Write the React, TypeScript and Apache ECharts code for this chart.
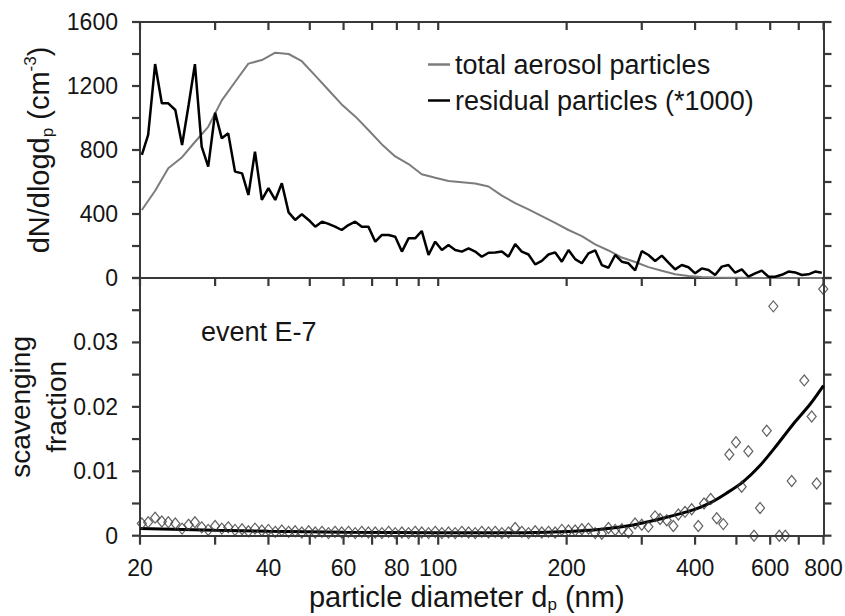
import React, { useEffect, useRef } from "react";
import * as echarts from "echarts";

// particle diameters (nm) of the size channels
const diameters = [
  20.2, 20.9, 21.7, 22.5, 23.3, 24.2, 25.1, 26.0, 26.9, 27.9,
  28.9, 30.0, 31.1, 32.2, 33.4, 34.7, 35.9, 37.2, 38.6, 40.0,
  41.5, 43.0, 44.6, 46.2, 47.9, 49.7, 51.5, 53.4, 55.3, 57.3,
  59.4, 61.6, 63.9, 66.2, 68.6, 71.2, 73.8, 76.5, 79.3, 82.2,
  85.2, 88.3, 91.5, 94.9, 98.4, 102.0, 105.7, 109.6, 113.6, 117.8,
  122.1, 126.5, 131.2, 136.0, 141.0, 146.1, 151.5, 157.0, 162.8, 168.8,
  174.9, 181.3, 188.0, 194.9, 202.0, 209.4, 217.1, 225.0, 233.3, 241.8,
  250.7, 259.9, 269.4, 279.2, 289.5, 300.1, 311.1, 322.5, 334.3, 346.5,
  359.2, 372.4, 386.0, 400.2, 414.8, 430.0, 445.8, 462.1, 479.0, 496.6,
  514.8, 533.6, 553.2, 573.4, 594.4, 616.2, 638.8, 662.2, 686.4, 711.6,
  737.7, 764.7, 792.7,
];

// residual particles (*1000), dN/dlogdp
const residual = [
  769, 894, 1337, 1092, 1092, 1050, 831, 1081, 1337, 821,
  696, 1033, 873, 904, 665, 654, 519, 790, 488, 561,
  488, 592, 410, 363, 398, 363, 321, 352, 338, 321,
  300, 331, 352, 321, 321, 227, 269, 269, 258, 165,
  248, 248, 294, 144, 227, 175, 206, 175, 165, 185,
  165, 133, 158, 160, 165, 133, 212, 165, 147, 85,
  107, 147, 160, 102, 175, 118, 92, 154, 173, 81,
  64, 144, 102, 92, 48, 168, 144, 106, 140, 96,
  54, 81, 67, 29, 60, 50, 19, 71, 81, 33,
  54, 8, 29, 46, 8, 8, 20, 40, 35, 19,
  23, 40, 33,
];

// total aerosol particles, dN/dlogdp
const totalDiameters = [
  20.2, 21.7, 23.3, 25.1, 26.9, 28.9, 31.1, 33.4, 35.9, 38.6,
  41.5, 44.6, 47.9, 51.5, 55.3, 59.4, 63.9, 68.6, 73.8, 79.3,
  85.2, 91.5, 98.4, 105.7, 113.6, 122.1, 131.2, 141.0, 151.5, 162.8,
  174.9, 188.0, 202.0, 217.1, 233.3, 250.7, 269.4, 289.5, 311.1, 334.3,
  359.2, 386.0, 414.8, 445.8, 479.0, 514.8, 553.2, 594.4, 638.8, 686.4,
  737.7, 792.7,
];
const totalAerosol = [
  425, 545, 686, 755, 850, 945, 1110, 1225, 1340, 1362,
  1408, 1400, 1355, 1265, 1175, 1085, 1010, 925, 835, 760,
  712, 648, 626, 606, 598, 590, 572, 515, 468, 429,
  387, 345, 300, 262, 210, 172, 128, 100, 68, 45,
  24, 12, 6, 3, 2, 1, 0, 0, 0, 0,
  0, 0,
];

// scavenging fraction (diamonds): the first 74 channels, then these diameters
const scavTailDiameters = [
  289.4, 300.0, 310.9, 322.3, 331.1, 343.3, 355.7, 365.5, 378.9, 392.8,
  407.0, 419.8, 435.2, 449.6, 465.8, 481.2, 498.8, 514.4, 533.2, 549.8,
  568.0, 588.9, 610.2, 630.2, 650.9, 673.8, 721.2, 750.6, 771.0, 799.0,
];
const scavFraction = [
  0.0019, 0.0021, 0.0028, 0.0022, 0.0021, 0.0019, 0.0011, 0.0017, 0.0021, 0.0013,
  0.0009, 0.0015, 0.0011, 0.0013, 0.0009, 0.0010, 0.0007, 0.0011, 0.0008, 0.0009,
  0.0006, 0.0008, 0.0006, 0.0007, 0.0005, 0.0007, 0.0005, 0.0006, 0.0004, 0.0006,
  0.0005, 0.0006, 0.0004, 0.0006, 0.0005, 0.0005, 0.0004, 0.0006, 0.0004, 0.0005,
  0.0004, 0.0006, 0.0005, 0.0004, 0.0006, 0.0004, 0.0005, 0.0004, 0.0006, 0.0005,
  0.0004, 0.0006, 0.0005, 0.0006, 0.0004, 0.0005, 0.0012, 0.0006, 0.0004, 0.0007,
  0.0005, 0.0006, 0.0005, 0.0009, 0.0008, 0.0008, 0.0010, 0.0011, 0.0004, 0.0003,
  0.0012, 0.0009, 0.0010, 0.0005,
  0.0019, 0.0017, 0.0014, 0.0030, 0.0026, 0.0024, 0.0015, 0.0033, 0.0037, 0.0041,
  0.0015, 0.0050, 0.0057, 0.0027, 0.0018, 0.0126, 0.0145, 0.0076, 0.0131, 0.0000,
  0.0043, 0.0163, 0.0356, 0.0000, 0.0000, 0.0085, 0.0241, 0.0185, 0.0081, 0.0383,
];

// fitted curve
const fitDiameters = [20, 30, 40, 60, 100, 150, 193, 231, 277, 331, 396, 434, 474, 519, 568, 621, 679, 744, 800];
const fitFraction = [
  0.0011, 0.00085, 0.0007, 0.00055, 0.00045, 0.00045, 0.0006, 0.0009, 0.0015, 0.0026,
  0.004, 0.0051, 0.0066, 0.0084, 0.0109, 0.0140, 0.0173, 0.0204, 0.0233,
];

// tick positions and labels
const xTickValues = [20, 30, 40, 50, 60, 70, 80, 90, 100, 200, 300, 400, 500, 600, 700, 800];
const xLabelValues = [20, 40, 60, 80, 100, 200, 400, 600, 800];
const yTopTicks = [0, 200, 400, 600, 800, 1000, 1200, 1400, 1600];
const yBottomTicks = [0, 0.005, 0.01, 0.015, 0.02, 0.025, 0.03, 0.035, 0.04];

const FONT = "Liberation Sans";
const AXIS_COLOR = "#383838";
const TEXT_COLOR = "#151515";

export default function App() {
  const ref = useRef<HTMLDivElement>(null);

  useEffect(() => {
    const chart = echarts.init(ref.current!, null, { renderer: "svg" });
    const scavDiameters = diameters.slice(0, 74).concat(scavTailDiameters);
    const lmin = Math.log10(20);
    const lmax = Math.log10(800);
    const line = () => ({ show: true, onZero: false, lineStyle: { color: AXIS_COLOR, width: 2 } });
    const labelStyle = () => ({ fontFamily: FONT, fontSize: 23, color: TEXT_COLOR });
    const richBase = { fontFamily: FONT, color: TEXT_COLOR };
    const eventLabel = {
      type: "text", left: 201, top: 318,
      style: { text: "event E-7", fontFamily: FONT, fontSize: 27, fill: TEXT_COLOR },
    };

    const option: any = {
      animation: false,
      backgroundColor: "#ffffff",
      grid: [
        { left: 140, right: 21.5, top: 22, height: 256, outerBoundsMode: "none" },
        { left: 140, right: 21.5, top: 278, height: 257.7, outerBoundsMode: "none" },
      ],
      legend: {
        orient: "vertical", left: 428, top: 51, padding: 0, itemGap: 9,
        itemWidth: 22, itemHeight: 2.5, icon: "rect",
        data: ["total aerosol particles", "residual particles (*1000)"],
        textStyle: { fontFamily: FONT, fontSize: 27, lineHeight: 27, color: TEXT_COLOR },
      },
      xAxis: [
        {
          type: "log", logBase: 10, gridIndex: 0, min: 20, max: 800, position: "bottom",
          axisLine: line(), axisTick: { show: false }, axisLabel: { show: false }, splitLine: { show: false },
        },
        {
          type: "log", logBase: 10, gridIndex: 1, min: 20, max: 800, position: "bottom",
          axisLine: line(), axisTick: { show: false }, axisLabel: { show: false }, splitLine: { show: false },
        },
        {
          type: "value", gridIndex: 0, min: lmin, max: lmax, position: "top",
          axisLine: line(), axisTick: { show: false },
          axisLabel: { show: false }, splitLine: { show: false },
        },
        {
          type: "value", gridIndex: 1, min: lmin, max: lmax, position: "bottom",
          axisLine: line(), axisTick: { show: false },
          axisLabel: {
            show: true, margin: 21, ...labelStyle(),
            customValues: xLabelValues.map(Math.log10),
            formatter: (v: number) => String(Math.round(Math.pow(10, v))),
          },
          splitLine: { show: false },
          name: "{a|particle diameter d}{sub|p}{a| (nm)}",
          nameLocation: "middle", nameGap: 45, nameMoveOverlap: false,
          nameTextStyle: {
            ...richBase, fontSize: 29, padding: [0, 30, 0, 0],
            rich: {
              a: { ...richBase, fontSize: 29, lineHeight: 32 },
              sub: { ...richBase, fontSize: 17, lineHeight: 17, verticalAlign: "bottom" },
            },
          },
        },
      ],
      yAxis: [
        {
          type: "value", gridIndex: 0, position: "left", min: 0, max: 1600, interval: 400,
          axisLine: line(), axisTick: { show: false },
          axisLabel: { show: true, margin: 22, ...labelStyle(), formatter: (v: number) => String(v) },
          splitLine: { show: false },
          name: "{a|dN/dlogd}{sub|p}{a| (cm}{sup|-3}{a|)}",
          nameLocation: "middle", nameGap: 84, nameMoveOverlap: false,
          nameTextStyle: {
            ...richBase, fontSize: 29,
            rich: {
              a: { ...richBase, fontSize: 29, lineHeight: 34 },
              sub: { ...richBase, fontSize: 17, lineHeight: 17, verticalAlign: "bottom" },
              sup: { ...richBase, fontSize: 17, lineHeight: 17, verticalAlign: "top" },
            },
          },
        },
        {
          type: "value", gridIndex: 0, position: "right", min: 0, max: 1600, interval: 200,
          axisLine: line(), axisTick: { show: false },
          axisLabel: { show: false }, splitLine: { show: false },
        },
        {
          type: "value", gridIndex: 1, position: "left", min: 0, max: 0.04, interval: 0.01,
          axisLine: line(), axisTick: { show: false },
          axisLabel: {
            show: true, margin: 22, ...labelStyle(),
            formatter: (v: number) => (v > 0.035 ? "" : String(Math.round(v * 100) / 100)),
          },
          splitLine: { show: false },
          name: "scavenging\nfraction",
          nameLocation: "middle", nameGap: 66, nameMoveOverlap: false,
          nameTextStyle: { ...richBase, fontSize: 28, lineHeight: 36 },
        },
        {
          type: "value", gridIndex: 1, position: "right", min: 0, max: 0.04, interval: 0.005,
          axisLine: line(), axisTick: { show: false },
          axisLabel: { show: false }, splitLine: { show: false },
        },
      ],
      graphic: [eventLabel],
      series: [
        {
          name: "total aerosol particles", type: "line", xAxisIndex: 0, yAxisIndex: 0,
          data: totalDiameters.map((d, i) => [d, totalAerosol[i]]),
          symbol: "none", clip: false,
          lineStyle: { color: "#7c7c7c", width: 2 }, itemStyle: { color: "#7c7c7c" }, z: 2,
        },
        {
          name: "residual particles (*1000)", type: "line", xAxisIndex: 0, yAxisIndex: 0,
          data: diameters.map((d, i) => [d, residual[i]]),
          symbol: "none", clip: false,
          lineStyle: { color: "#000000", width: 2.5 }, itemStyle: { color: "#000000" }, z: 3,
        },
        {
          name: "fit", type: "line", xAxisIndex: 1, yAxisIndex: 2,
          data: fitDiameters.map((d, i) => [d, fitFraction[i]]),
          symbol: "none", smooth: 0.3, clip: false,
          lineStyle: { color: "#000000", width: 3 }, z: 3,
        },
        {
          name: "scavenging", type: "scatter", xAxisIndex: 1, yAxisIndex: 2,
          data: scavDiameters.map((d, i) => [d, scavFraction[i]]),
          symbol: "diamond", symbolSize: [9, 11], clip: false,
          itemStyle: { color: "rgba(0,0,0,0)", borderColor: "#383838", borderWidth: 1.2 }, z: 4,
        },
      ],
    };

    chart.setOption(option);

    // tick marks: short line elements placed through the axes' own scales
    const px = (xi: number, yi: number, v: number[]) =>
      chart.convertToPixel({ xAxisIndex: xi, yAxisIndex: yi }, v) as number[];
    const segs: any[] = [];
    const addLine = (x1: number, y1: number, x2: number, y2: number) =>
      segs.push({
        type: "line", silent: true, z: 50,
        shape: { x1, y1, x2, y2 },
        style: { stroke: AXIS_COLOR, lineWidth: 2.2 },
      });
    xTickValues.forEach((t) => {
      const top = px(0, 0, [t, 1600]);
      addLine(top[0], top[1], top[0], top[1] + 8);
      const mid = px(0, 0, [t, 0]);
      addLine(mid[0], mid[1], mid[0], mid[1] + 8);
      const bot = px(1, 2, [t, 0]);
      addLine(bot[0], bot[1], bot[0], bot[1] + 9);
    });
    yTopTicks.forEach((v) => {
      const l = px(0, 0, [20, v]);
      addLine(l[0] - 8, l[1], l[0], l[1]);
      const r = px(0, 0, [800, v]);
      addLine(r[0], r[1], r[0] + 8, r[1]);
    });
    yBottomTicks.forEach((v) => {
      const l = px(1, 2, [20, v]);
      addLine(l[0] - 8, l[1], l[0], l[1]);
      const r = px(1, 2, [800, v]);
      addLine(r[0], r[1], r[0] + 8, r[1]);
    });
    chart.setOption({
      graphic: [eventLabel, { type: "group", silent: true, children: segs }],
    });

    return () => chart.dispose();
  }, []);

  return (
    <div
      ref={ref}
      style={{ position: "absolute", left: 0, top: 0, width: 845, height: 616, background: "#fff" }}
    />
  );
}
